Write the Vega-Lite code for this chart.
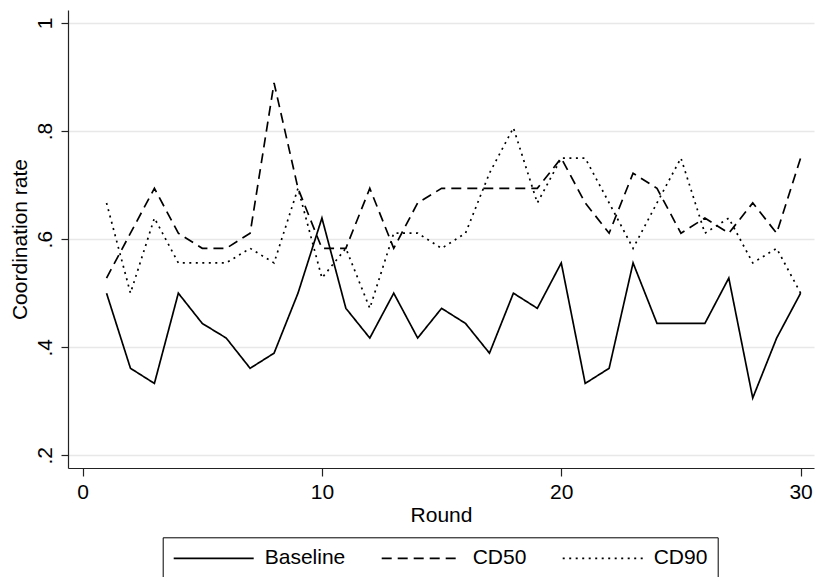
{
  "$schema": "https://vega.github.io/schema/vega-lite/v6.json",
  "width": 746,
  "height": 458,
  "autosize": {"type": "none"},
  "padding": {"left": 68, "top": 10, "right": 3, "bottom": 109},
  "background": "white",
  "config": {
    "view": {"stroke": null},
    "font": "Liberation Sans",
    "axis": {"labelFont": "Liberation Sans", "titleFont": "Liberation Sans", "labelColor": "black", "titleColor": "black", "titleFontWeight": "normal", "domainColor": "#222", "tickColor": "#222", "domainWidth": 1.2, "tickWidth": 1.2}
  },
  "datasets": {
    "rates": [
      {"round": 1, "group": "Baseline", "rate": 0.5},
      {"round": 2, "group": "Baseline", "rate": 0.361},
      {"round": 3, "group": "Baseline", "rate": 0.333},
      {"round": 4, "group": "Baseline", "rate": 0.5},
      {"round": 5, "group": "Baseline", "rate": 0.444},
      {"round": 6, "group": "Baseline", "rate": 0.417},
      {"round": 7, "group": "Baseline", "rate": 0.361},
      {"round": 8, "group": "Baseline", "rate": 0.389},
      {"round": 9, "group": "Baseline", "rate": 0.5},
      {"round": 10, "group": "Baseline", "rate": 0.639},
      {"round": 11, "group": "Baseline", "rate": 0.472},
      {"round": 12, "group": "Baseline", "rate": 0.417},
      {"round": 13, "group": "Baseline", "rate": 0.5},
      {"round": 14, "group": "Baseline", "rate": 0.417},
      {"round": 15, "group": "Baseline", "rate": 0.472},
      {"round": 16, "group": "Baseline", "rate": 0.444},
      {"round": 17, "group": "Baseline", "rate": 0.389},
      {"round": 18, "group": "Baseline", "rate": 0.5},
      {"round": 19, "group": "Baseline", "rate": 0.472},
      {"round": 20, "group": "Baseline", "rate": 0.556},
      {"round": 21, "group": "Baseline", "rate": 0.333},
      {"round": 22, "group": "Baseline", "rate": 0.361},
      {"round": 23, "group": "Baseline", "rate": 0.556},
      {"round": 24, "group": "Baseline", "rate": 0.444},
      {"round": 25, "group": "Baseline", "rate": 0.444},
      {"round": 26, "group": "Baseline", "rate": 0.444},
      {"round": 27, "group": "Baseline", "rate": 0.528},
      {"round": 28, "group": "Baseline", "rate": 0.306},
      {"round": 29, "group": "Baseline", "rate": 0.417},
      {"round": 30, "group": "Baseline", "rate": 0.5},
      {"round": 1, "group": "CD50", "rate": 0.528},
      {"round": 2, "group": "CD50", "rate": 0.611},
      {"round": 3, "group": "CD50", "rate": 0.694},
      {"round": 4, "group": "CD50", "rate": 0.611},
      {"round": 5, "group": "CD50", "rate": 0.583},
      {"round": 6, "group": "CD50", "rate": 0.583},
      {"round": 7, "group": "CD50", "rate": 0.611},
      {"round": 8, "group": "CD50", "rate": 0.889},
      {"round": 9, "group": "CD50", "rate": 0.694},
      {"round": 10, "group": "CD50", "rate": 0.583},
      {"round": 11, "group": "CD50", "rate": 0.583},
      {"round": 12, "group": "CD50", "rate": 0.694},
      {"round": 13, "group": "CD50", "rate": 0.583},
      {"round": 14, "group": "CD50", "rate": 0.667},
      {"round": 15, "group": "CD50", "rate": 0.694},
      {"round": 16, "group": "CD50", "rate": 0.694},
      {"round": 17, "group": "CD50", "rate": 0.694},
      {"round": 18, "group": "CD50", "rate": 0.694},
      {"round": 19, "group": "CD50", "rate": 0.694},
      {"round": 20, "group": "CD50", "rate": 0.75},
      {"round": 21, "group": "CD50", "rate": 0.667},
      {"round": 22, "group": "CD50", "rate": 0.611},
      {"round": 23, "group": "CD50", "rate": 0.722},
      {"round": 24, "group": "CD50", "rate": 0.694},
      {"round": 25, "group": "CD50", "rate": 0.611},
      {"round": 26, "group": "CD50", "rate": 0.639},
      {"round": 27, "group": "CD50", "rate": 0.611},
      {"round": 28, "group": "CD50", "rate": 0.667},
      {"round": 29, "group": "CD50", "rate": 0.611},
      {"round": 30, "group": "CD50", "rate": 0.75},
      {"round": 1, "group": "CD90", "rate": 0.667},
      {"round": 2, "group": "CD90", "rate": 0.5},
      {"round": 3, "group": "CD90", "rate": 0.639},
      {"round": 4, "group": "CD90", "rate": 0.556},
      {"round": 5, "group": "CD90", "rate": 0.556},
      {"round": 6, "group": "CD90", "rate": 0.556},
      {"round": 7, "group": "CD90", "rate": 0.583},
      {"round": 8, "group": "CD90", "rate": 0.556},
      {"round": 9, "group": "CD90", "rate": 0.694},
      {"round": 10, "group": "CD90", "rate": 0.528},
      {"round": 11, "group": "CD90", "rate": 0.583},
      {"round": 12, "group": "CD90", "rate": 0.472},
      {"round": 13, "group": "CD90", "rate": 0.611},
      {"round": 14, "group": "CD90", "rate": 0.611},
      {"round": 15, "group": "CD90", "rate": 0.583},
      {"round": 16, "group": "CD90", "rate": 0.611},
      {"round": 17, "group": "CD90", "rate": 0.722},
      {"round": 18, "group": "CD90", "rate": 0.806},
      {"round": 19, "group": "CD90", "rate": 0.667},
      {"round": 20, "group": "CD90", "rate": 0.75},
      {"round": 21, "group": "CD90", "rate": 0.75},
      {"round": 22, "group": "CD90", "rate": 0.667},
      {"round": 23, "group": "CD90", "rate": 0.583},
      {"round": 24, "group": "CD90", "rate": 0.667},
      {"round": 25, "group": "CD90", "rate": 0.75},
      {"round": 26, "group": "CD90", "rate": 0.611},
      {"round": 27, "group": "CD90", "rate": 0.639},
      {"round": 28, "group": "CD90", "rate": 0.556},
      {"round": 29, "group": "CD90", "rate": 0.583},
      {"round": 30, "group": "CD90", "rate": 0.5}
    ]
  },
  "data": {"name": "rates"},
  "mark": {"type": "line", "color": "black", "strokeWidth": 1.7, "strokeCap": "butt"},
  "encoding": {
    "x": {
      "field": "round", "type": "quantitative",
      "scale": {"domain": [-0.61, 30.56], "nice": false, "zero": false},
      "axis": {"values": [0, 10, 20, 30], "tickSize": 8, "labelFontSize": 21, "labelPadding": 5, "grid": false,
               "title": "Round", "titleFontSize": 21, "titleBaseline": "alphabetic", "titleY": 53.5}
    },
    "y": {
      "field": "rate", "type": "quantitative",
      "scale": {"domain": [0.1765, 1.024], "nice": false, "zero": false},
      "axis": {"values": [0.2, 0.4, 0.6, 0.8, 1], "tickSize": 7, "labelFontSize": 21, "labelAngle": 270,
               "labelAlign": "center", "labelBaseline": "alphabetic", "labelPadding": 10,
               "labelExpr": "datum.value == 1 ? '1' : replace(format(datum.value, '.1f'), '0.', '.')",
               "grid": true, "gridColor": "#e8e8e8", "gridWidth": 1.5,
               "title": "Coordination rate", "titleFontSize": 21, "titleAngle": 270, "titleAlign": "center",
               "titleBaseline": "alphabetic", "titleX": -42, "titleY": 229}
    },
    "order": {"field": "round", "type": "quantitative"},
    "strokeDash": {
      "field": "group", "type": "nominal",
      "scale": {"domain": ["Baseline", "CD50", "CD90"], "range": [[1, 0], [10, 6], [2, 4.5]]},
      "legend": {
        "title": null, "orient": "none", "direction": "horizontal", "legendX": 94.7, "legendY": 527.3,
        "symbolType": "M-1,0H7", "symbolSize": 400, "symbolStrokeColor": "black", "symbolStrokeWidth": 1.7,
        "symbolFillColor": "transparent",
        "labelFontSize": 21, "labelFont": "Liberation Sans", "labelColor": "black", "labelOffset": 70,
        "columnPadding": 32, "padding": 10, "strokeColor": "black", "fillColor": "white"
      }
    }
  }
}
